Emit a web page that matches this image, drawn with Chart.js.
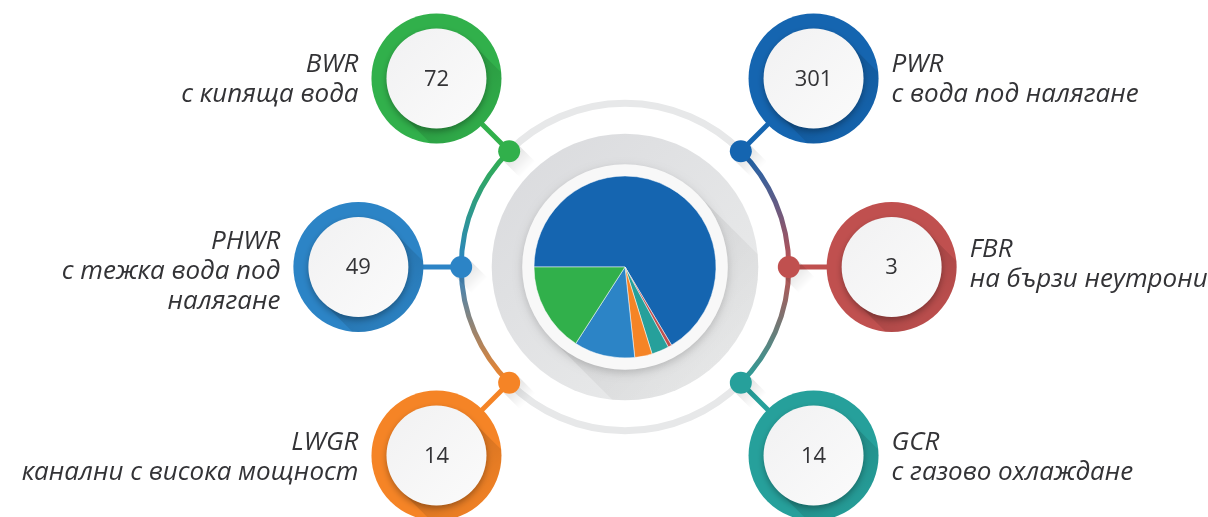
<!DOCTYPE html>
<html lang="bg">
<head>
<meta charset="utf-8">
<script src="https://cdn.jsdelivr.net/npm/chart.js@4.4.1/dist/chart.umd.min.js"></script>
<style>
html, body { margin: 0; padding: 0; background: #fff; }
#wrap { position: relative; width: 1208px; height: 517px; }
</style>
</head>
<body>
<div id="wrap"><canvas id="myChart" lang="bg"></canvas></div>
<script>
// reactor types, clockwise from 9 o'clock
const labels = ['PWR', 'FBR', 'GCR', 'LWGR', 'PHWR', 'BWR'];
const reactors = [301, 3, 14, 14, 49, 72];
const descriptions = [
  ['с вода под налягане'],
  ['на бързи неутрони'],
  ['с газово охлаждане'],
  ['канални с висока мощност'],
  ['с тежка вода под', 'налягане'],
  ['с кипяща вода']
];
const colors = ['#1565b0', '#c0504f', '#26a09b', '#f58426', '#2c84c6', '#31b04b'];

// where each bubble sits around the pie (deg, 0 = right), text side, first baseline offset
const slots = {
  PWR:  { angle: -45,  side: 1,  dy: -6 },
  FBR:  { angle: 0,    side: 1,  dy: -10 },
  GCR:  { angle: 45,   side: 1,  dy: -6 },
  LWGR: { angle: 135,  side: -1, dy: -6 },
  PHWR: { angle: 180,  side: -1, dy: -18 },
  BWR:  { angle: -135, side: -1, dy: -6 }
};

const K = Math.SQRT1_2;

function disc(ctx, x, y, r, fill) {
  ctx.beginPath();
  ctx.arc(x, y, r, 0, Math.PI * 2);
  ctx.fillStyle = fill;
  ctx.fill();
}

// flat "long shadow" towards bottom-right, clipped to a circle
function longShadow(ctx, x, y, rad, len, color, clipX, clipY, clipR) {
  ctx.save();
  if (clipR) {
    ctx.beginPath();
    ctx.arc(clipX, clipY, clipR, 0, Math.PI * 2);
    ctx.clip();
  }
  ctx.beginPath();
  ctx.arc(x, y, rad, -Math.PI / 4, Math.PI * 3 / 4);
  ctx.lineTo(x - rad * K + len * K, y + rad * K + len * K);
  ctx.lineTo(x + rad * K + len * K, y - rad * K + len * K);
  ctx.closePath();
  const g = ctx.createLinearGradient(x, y, x + len * K, y + len * K);
  g.addColorStop(0, color);
  g.addColorStop(1, 'rgba(0,0,0,0)');
  ctx.fillStyle = g;
  ctx.fill();
  ctx.restore();
}

const decor = {
  id: 'decor',
  beforeDatasetsDraw(chart) {
    const ctx = chart.ctx;
    const el = chart.getDatasetMeta(0).data[0];
    const cx = el.x, cy = el.y, r = el.outerRadius;
    const ringR = r * 1.8;     // outer connector ring
    const bubD = r * 2.93;     // bubble distance from center

    ctx.save();

    // grey plate + its long shadow
    const plate = ctx.createLinearGradient(cx - r * 1.4, cy - r * 1.4, cx + r * 1.4, cy + r * 1.4);
    plate.addColorStop(0, '#d9dadd');
    plate.addColorStop(1, '#eceded');
    disc(ctx, cx, cy, r * 1.465, plate);
    longShadow(ctx, cx, cy, r * 1.13, r * 2, 'rgba(0,0,0,0.07)', cx, cy, r * 1.465);

    // big ring: grey top/bottom, gradient sides
    const ty = cy - ringR * K, by = cy + ringR * K;
    ctx.lineCap = 'butt';
    ctx.strokeStyle = '#e7e8e9';
    ctx.lineWidth = 7;
    ctx.beginPath(); ctx.arc(cx, cy, ringR, -Math.PI * 3 / 4, -Math.PI / 4); ctx.stroke();
    ctx.beginPath(); ctx.arc(cx, cy, ringR, Math.PI / 4, Math.PI * 3 / 4); ctx.stroke();

    const byName = n => colors[labels.indexOf(n)];
    const gl = ctx.createLinearGradient(0, ty, 0, by);
    gl.addColorStop(0, byName('BWR'));
    gl.addColorStop(0.5, byName('PHWR'));
    gl.addColorStop(1, byName('LWGR'));
    const gr = ctx.createLinearGradient(0, ty, 0, by);
    gr.addColorStop(0, byName('PWR'));
    gr.addColorStop(0.5, byName('FBR'));
    gr.addColorStop(1, byName('GCR'));
    ctx.lineWidth = 5;
    ctx.strokeStyle = gl;
    ctx.beginPath(); ctx.arc(cx, cy, ringR, Math.PI * 3 / 4, Math.PI * 5 / 4); ctx.stroke();
    ctx.strokeStyle = gr;
    ctx.beginPath(); ctx.arc(cx, cy, ringR, -Math.PI / 4, Math.PI / 4); ctx.stroke();

    labels.forEach((name, i) => {
      const s = slots[name];
      const a = s.angle * Math.PI / 180;
      const dx = cx + Math.cos(a) * ringR, dy = cy + Math.sin(a) * ringR;
      const bx = cx + Math.cos(a) * bubD, by2 = cy + Math.sin(a) * bubD;
      const col = colors[i];

      // connector
      ctx.strokeStyle = col;
      ctx.lineWidth = 5;
      ctx.beginPath(); ctx.moveTo(dx, dy); ctx.lineTo(bx, by2); ctx.stroke();

      // dot
      longShadow(ctx, dx, dy, 11, 26, 'rgba(0,0,0,0.13)');
      disc(ctx, dx, dy, 11, col);

      // bubble ring
      disc(ctx, bx, by2, 65, col);
      longShadow(ctx, bx, by2, 50, 80, 'rgba(0,0,0,0.16)', bx, by2, 65);

      // white face
      ctx.save();
      ctx.shadowColor = 'rgba(0,0,0,0.3)';
      ctx.shadowBlur = 6;
      ctx.shadowOffsetY = 3;
      const face = ctx.createLinearGradient(bx - 50, by2 - 50, bx + 50, by2 + 50);
      face.addColorStop(0, '#f1f1f2');
      face.addColorStop(1, '#fbfbfb');
      disc(ctx, bx, by2, 50, face);
      ctx.restore();

      // value
      ctx.fillStyle = '#333336';
      ctx.font = '22px "Open Sans"';
      ctx.textAlign = 'center';
      ctx.textBaseline = 'middle';
      ctx.fillText(String(reactors[i]), bx, by2 + 1);

      // label
      ctx.font = 'italic 26px "Open Sans"';
      ctx.textBaseline = 'alphabetic';
      ctx.textAlign = s.side > 0 ? 'left' : 'right';
      const tx = bx + s.side * 78;
      const lines = [name].concat(descriptions[i]);
      lines.forEach((t, j) => ctx.fillText(t, tx, by2 + s.dy + j * 30));
    });

    // white rim under the pie
    ctx.save();
    ctx.shadowColor = 'rgba(0,0,0,0.18)';
    ctx.shadowBlur = 8;
    ctx.shadowOffsetY = 3;
    disc(ctx, cx, cy, r * 1.13, '#f8f8f8');
    ctx.restore();

    ctx.restore();
  }
};

const data = {
  labels: labels,
  datasets: [{
    data: reactors,
    backgroundColor: colors,
    borderColor: 'rgba(255,255,255,0.5)',
    borderWidth: 1
  }]
};

const config = {
  type: 'pie',
  data: data,
  options: {
    responsive: true,
    maintainAspectRatio: false,
    devicePixelRatio: 1,
    animation: false,
    rotation: -90,
    layout: { padding: { left: 493.5, right: 451.5, top: 175.5, bottom: 158.5 } },
    plugins: { legend: { display: false }, tooltip: { enabled: false } }
  },
  plugins: [decor]
};

new Chart(document.getElementById('myChart'), config);
</script>
</body>
</html>
